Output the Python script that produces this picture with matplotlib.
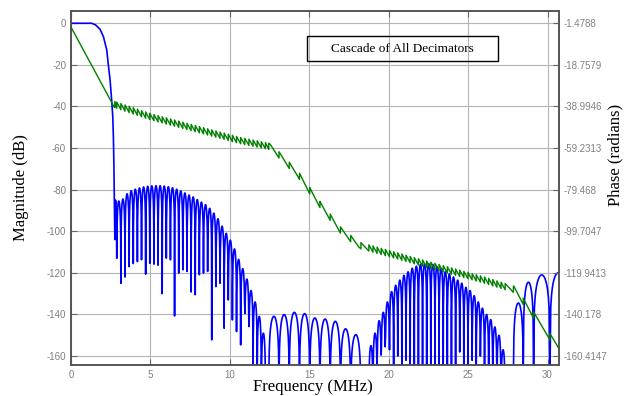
import matplotlib.pyplot as plt
import matplotlib.patches as patches
import numpy as np

plt.rcParams['axes.unicode_minus'] = False

# ── Data ──────────────────────────────────────────────────────────────────────
# magnitude (dB): passband and main-lobe edge
main_freq = [0, 1.3, 1.55, 1.83, 2.04, 2.25, 2.35, 2.46, 2.56, 2.63, 2.67, 2.70, 2.73,
             2.76, 2.78, 2.80, 2.83, 2.86]
main_db = [0, 0, -0.8, -2.9, -6.4, -12.8, -20, -27.2, -37, -45, -55, -68, -85,
           -104, -88, -85, -86, -95]

# stopband lobe groups: band edges (MHz), lobe peaks (dB), null depths (dB)
g1_edges = (2.88, 12.24)
g1_peaks = [-85.5, -84.5, -82, -80.5, -79.8, -79.2, -78.7, -78.4, -78.2, -78.1, -78.1, -78.3,
            -78.6, -79.1, -79.8, -80.6, -81.6, -82.6, -83.5, -84.8, -86, -87.2, -89, -91.3,
            -94, -97.6, -101, -104.3, -108.5, -113.5, -118, -123, -128.5, -134, -141, -149]
g1_nulls = [-113, -125, -122, -117, -115.5, -114.6, -113.7, -120.6, -115.4, -115.8, -116.3,
            -130, -112.9, -113.7, -140.7, -120.1, -118.5, -119.3, -129.2, -130.5, -120.9,
            -120.1, -119.3, -152.2, -126.6, -125, -146.6, -133, -142.6, -148.2, -154.6,
            -136.2, -145.8, -170, -170, -170, -170]

g2_edges = (12.45, 18.25)
g2_peaks = [-140.9, -140.1, -139, -139.6, -141.7, -142.2, -143.3, -146.9, -149.7]
g2_nulls = [-170, -170, -170, -170, -170, -170, -170, -170, -170, -170]

g3_edges = (18.75, 27.33)
g3_peaks = [-155, -149, -143, -139, -134, -129, -126, -123.5, -121.2, -119.5, -117.8,
            -116.8, -116, -115.7, -115.6, -116, -117, -118, -119.5, -120.5, -122, -123.5,
            -125, -127, -128.5, -131, -134, -137, -140, -142.5, -146, -150, -157]
g3_nulls = [-170, -165, -160, -158, -152, -157, -170, -160, -170, -162, -170, -170, -170,
            -170, -170, -170, -170, -170, -170, -166, -170, -170, -158, -170, -170, -162,
            -170, -160, -170, -168, -170, -165, -170, -170]

g4_null_freq = [27.85, 28.47, 29.12, 30.15, 31.2]
g4_peaks = [-134.5, -124.5, -121, -120]
g4_nulls = [-170, -170, -170, -170, -170]

# unwrapped phase (radians), centre line through the ripple
phase_freq = [0, 2.72, 2.76, 5.0, 10.66, 12.55, 13.2, 14.33, 15.07, 15.7, 16.96, 18.1,
              20.7, 21.8, 26.0, 27.9, 30.72]
phase_rad = [-3.3, -41.5, -40.3, -46.1, -57.5, -60.4, -65.1, -74.0, -81.9, -88.3, -100.2,
             -107.4, -112.9, -115.3, -124.1, -128.6, -156.9]

mag_ticks = [0, -20, -40, -60, -80, -100, -120, -140, -160]
phase_labels = ['-1.4788', '-18.7579', '-38.9946', '-59.2313', '-79.468', '-99.7047',
                '-119.9413', '-140.178', '-160.4147']

# ── Build curves ──────────────────────────────────────────────────────────────
def lobes(null_f, peaks, depths, n=22):
    fs, ys = [], []
    t = np.linspace(0, 1, n)[1:-1]
    for i, p in enumerate(peaks):
        a, b = null_f[i], null_f[i + 1]
        fs += [a] + list(a + (b - a) * t)
        ys += [depths[i]] + list(p + 20 * np.log10(np.sin(np.pi * t)))
    fs.append(null_f[-1])
    ys.append(depths[-1])
    return fs, ys

g1_f = np.linspace(g1_edges[0], g1_edges[1], len(g1_peaks) + 1)
g2_f = np.linspace(g2_edges[0], g2_edges[1], len(g2_peaks) + 1)
g3_f = np.linspace(g3_edges[0], g3_edges[1], len(g3_peaks) + 1)

mag_f, mag_y = list(main_freq), list(main_db)
for nf, pk, dp in [(g1_f, g1_peaks, g1_nulls), (g2_f, g2_peaks, g2_nulls),
                   (g3_f, g3_peaks, g3_nulls), (g4_null_freq, g4_peaks, g4_nulls)]:
    f, y = lobes(nf, pk, dp)
    mag_f += f
    mag_y += y

# phase steps at each stopband zero
jumps = np.concatenate([[2.76], g1_f, g2_f, g3_f, [f for f in g4_null_freq if f < 30.72]])
J = 3.0
ph_f, ph_y = [], []
for f, p in zip(phase_freq, phase_rad):
    if f < jumps[0]:
        ph_f.append(f); ph_y.append(p)
for i, fj in enumerate(jumps):
    b = np.interp(fj, phase_freq, phase_rad)
    ph_f += [fj, fj]; ph_y += [b - J / 2, b + J / 2]
    fn = jumps[i + 1] if i + 1 < len(jumps) else None
    for f, p in zip(phase_freq, phase_rad):
        if f > fj and (fn is None or f < fn):
            off = J / 2 - J * (f - fj) / (fn - fj) if fn is not None else 0
            ph_f.append(f); ph_y.append(p + off)

# ── Figure ────────────────────────────────────────────────────────────────────
fig = plt.figure(figsize=(6.32, 3.96), dpi=100)
ax = fig.add_axes([71 / 632, 1 - 365 / 396, 488 / 632, 354 / 396])
ylo, yhi = -164.3, 5.9
ax.set_xlim(0, 30.72)
ax.set_ylim(ylo, yhi)
ax.plot(mag_f, mag_y, color='#0000ff', lw=1.2, zorder=3)

ax.set_xticks(range(0, 31, 5))
ax.set_yticks(mag_ticks)
ax.grid(True, color='#b4b4b4', lw=0.8)
ax.tick_params(direction='in', length=4, color='#666666', labelcolor='#808080',
               labelsize=7, top=True, right=False)
for lab in ax.get_xticklabels() + ax.get_yticklabels():
    lab.set_family('Liberation Sans')

# phase axis, same tick positions as the magnitude axis
ph0, ph_scale = -1.4788, 0.99335
ax2 = ax.twinx()
ax2.set_ylim(ph0 + ph_scale * ylo, ph0 + ph_scale * yhi)
ax2.plot(ph_f, ph_y, color='#008000', lw=1.0, zorder=3)
ax2.set_yticks([ph0 + ph_scale * t for t in mag_ticks])
ax2.set_yticklabels(phase_labels, family='Liberation Sans')
ax2.tick_params(direction='in', length=4, color='#666666', labelcolor='#808080', labelsize=7)

for a in (ax, ax2):
    for s in a.spines.values():
        s.set_color('#555555')
        s.set_linewidth(1.2)

# ── Labels ────────────────────────────────────────────────────────────────────
fig.text(313 / 632, 1 - 387 / 396, 'Frequency (MHz)', ha='center', va='center',
         family='Liberation Serif', fontsize=12)
fig.text(21 / 632, 1 - 188 / 396, 'Magnitude (dB)', ha='center', va='center',
         rotation=90, family='Liberation Serif', fontsize=12)
fig.text(615 / 632, 1 - 155 / 396, 'Phase (radians)', ha='center', va='center',
         rotation=90, family='Liberation Serif', fontsize=12)

fig.add_artist(patches.Rectangle((307 / 632, 1 - 61 / 396), 191 / 632, 25 / 396,
                                 transform=fig.transFigure, fill=False,
                                 edgecolor='black', lw=1.0))
fig.text(402.5 / 632, 1 - 48.5 / 396, 'Cascade of All Decimators', ha='center',
         va='center', family='Liberation Serif', fontsize=9.5)

fig.savefig('out.png', dpi=100)
